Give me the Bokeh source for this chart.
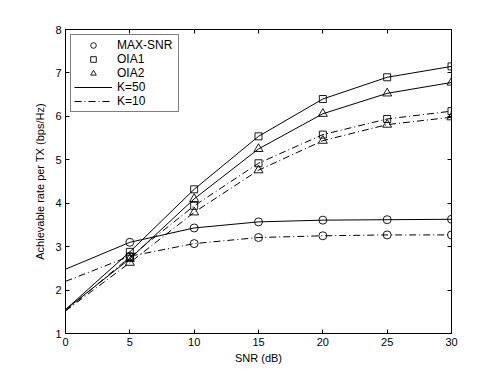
from bokeh.plotting import figure
from bokeh.models import Range1d, LinearAxis, FixedTicker, Legend, LegendItem
from bokeh.embed import file_html
from bokeh.resources import INLINE

snr = [0, 5, 10, 15, 20, 25, 30]
maxsnr_k50 = [2.48, 3.10, 3.43, 3.57, 3.61, 3.62, 3.63]
maxsnr_k10 = [2.20, 2.78, 3.07, 3.21, 3.25, 3.27, 3.27]
oia1_k50 = [1.55, 2.88, 4.32, 5.54, 6.40, 6.90, 7.15]
oia2_k50 = [1.55, 2.72, 4.10, 5.25, 6.06, 6.53, 6.78]
oia1_k10 = [1.52, 2.76, 3.94, 4.92, 5.58, 5.94, 6.12]
oia2_k10 = [1.52, 2.63, 3.79, 4.76, 5.44, 5.81, 5.98]

x_ticks = [0, 5, 10, 15, 20, 25, 30]
y_ticks = [1, 2, 3, 4, 5, 6, 7, 8]

FONT = "Liberation Sans"

p = figure(width=490, height=367, output_backend="svg", toolbar_location=None,
           x_range=Range1d(0, 30), y_range=Range1d(1, 8),
           min_border_left=65, min_border_right=39, min_border_top=29, min_border_bottom=34)
p.background_fill_color = "white"
p.border_fill_color = "white"
p.outline_line_color = "black"
p.outline_line_width = 1
p.xgrid.visible = False
p.ygrid.visible = False

for ax, ticks in ((p.xaxis[0], x_ticks), (p.yaxis[0], y_ticks)):
    ax.ticker = FixedTicker(ticks=ticks)
    ax.major_tick_in = 4
    ax.major_tick_out = 0
    ax.minor_tick_line_color = None
    ax.axis_line_color = "black"
    ax.major_tick_line_color = "black"
    ax.major_label_text_font = FONT
    ax.major_label_text_font_size = "11px"
    ax.major_label_text_color = "black"
    ax.axis_label_text_font = FONT
    ax.axis_label_text_font_size = "11px"
    ax.axis_label_text_font_style = "normal"
    ax.axis_label_text_color = "black"

p.xaxis[0].axis_label = "SNR (dB)"
p.yaxis[0].axis_label = "Achievable rate per TX (bps/Hz)"
p.xaxis[0].major_label_standoff = 4
p.yaxis[0].major_label_standoff = 4
p.xaxis[0].axis_label_standoff = 3
p.yaxis[0].axis_label_standoff = 6

top = LinearAxis(ticker=FixedTicker(ticks=x_ticks), major_tick_in=4, major_tick_out=0,
                 minor_tick_line_color=None,
                 major_label_overrides={t: "" for t in x_ticks},
                 axis_line_color="black", major_label_standoff=0)
right = LinearAxis(ticker=FixedTicker(ticks=y_ticks), major_tick_in=4, major_tick_out=0,
                   minor_tick_line_color=None,
                   major_label_overrides={t: "" for t in y_ticks},
                   axis_line_color="black", major_label_standoff=0)
p.add_layout(top, "above")
p.add_layout(right, "right")

DASH = "7 3 1 3"
series = [
    (maxsnr_k50, "solid", "circle", 8),
    (maxsnr_k10, DASH, "circle", 8),
    (oia1_k50, "solid", "square", 7),
    (oia1_k10, DASH, "square", 7),
    (oia2_k50, "solid", "triangle", 9),
    (oia2_k10, DASH, "triangle", 9),
]
line_r = {}
mark_r = {}
for vals, dash, marker, size in series:
    lr = p.line(snr, vals, line_color="black", line_width=1, line_dash=dash)
    mr = p.scatter(snr[1:], vals[1:], marker=marker, size=size, fill_color=None,
                   line_color="black", line_width=0.9)
    line_r.setdefault(dash, lr)
    mark_r.setdefault(marker, mr)

legend = Legend(items=[
    LegendItem(label="MAX-SNR", renderers=[mark_r["circle"]]),
    LegendItem(label="OIA1", renderers=[mark_r["square"]]),
    LegendItem(label="OIA2", renderers=[mark_r["triangle"]]),
    LegendItem(label="K=50", renderers=[line_r["solid"]]),
    LegendItem(label="K=10", renderers=[line_r[DASH]]),
], location="top_left")
legend.margin = 5
legend.padding = 3
legend.spacing = 0
legend.glyph_width = 38
legend.glyph_height = 14
legend.label_height = 14
legend.label_width = 58
legend.label_standoff = 5
legend.label_text_font = FONT
legend.label_text_font_size = "12px"
legend.label_text_color = "black"
legend.border_line_color = "black"
legend.border_line_width = 1
legend.background_fill_color = "white"
legend.background_fill_alpha = 1
p.add_layout(legend)

open("out.html", "w").write(file_html(p, INLINE))
